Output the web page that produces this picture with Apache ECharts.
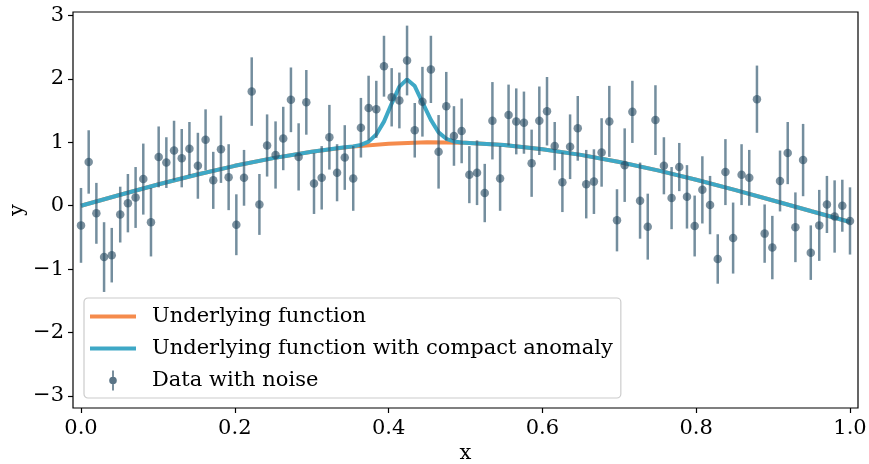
<!DOCTYPE html>
<html>
<head>
<meta charset="utf-8">
<script src="https://cdn.jsdelivr.net/npm/echarts@6/dist/echarts.min.js"></script>
<style>
  html, body { margin: 0; padding: 0; background: #fff; }
  #chart { width: 869px; height: 464px; }
</style>
</head>
<body>
<div id="chart"></div>
<script>
// ---- data ----
const xTicks = [0.0, 0.2, 0.4, 0.6, 0.8, 1.0];
const yTicks = [-3, -2, -1, 0, 1, 2, 3];

const curveX = [0, 0.05, 0.10, 0.15, 0.20, 0.25, 0.30, 0.35, 0.40, 0.45, 0.50,
                0.55, 0.60, 0.65, 0.70, 0.75, 0.80, 0.85, 0.90, 0.95, 1.00];
const curveY = [0, 0.169, 0.334, 0.488, 0.629, 0.751, 0.852, 0.928, 0.978, 0.999, 0.992,
                0.956, 0.892, 0.802, 0.690, 0.558, 0.409, 0.249, 0.082, -0.088, -0.256];

const anomalyX = [0, 0.05, 0.10, 0.15, 0.20, 0.25, 0.30, 0.333, 0.343, 0.354, 0.364,
                  0.374, 0.384, 0.394, 0.404, 0.414, 0.424, 0.434, 0.444, 0.455, 0.465,
                  0.475, 0.485, 0.495, 0.505, 0.55, 0.60, 0.65, 0.70, 0.75, 0.80,
                  0.85, 0.90, 0.95, 1.00];
const anomalyY = [0, 0.169, 0.334, 0.488, 0.629, 0.751, 0.852, 0.906, 0.921, 0.936, 0.960,
                  1.011, 1.122, 1.326, 1.611, 1.878, 1.992, 1.887, 1.628, 1.353, 1.157,
                  1.055, 1.013, 0.997, 0.990, 0.956, 0.892, 0.802, 0.690, 0.558, 0.409,
                  0.249, 0.082, -0.088, -0.256];

const dataX = [0, 0.010, 0.020, 0.030, 0.040, 0.051, 0.061, 0.071, 0.081, 0.091,
  0.101, 0.111, 0.121, 0.131, 0.141, 0.152, 0.162, 0.172, 0.182, 0.192,
  0.202, 0.212, 0.222, 0.232, 0.242, 0.253, 0.263, 0.273, 0.283, 0.293,
  0.303, 0.313, 0.323, 0.333, 0.343, 0.354, 0.364, 0.374, 0.384, 0.394,
  0.404, 0.414, 0.424, 0.434, 0.444, 0.455, 0.465, 0.475, 0.485, 0.495,
  0.505, 0.515, 0.525, 0.535, 0.545, 0.556, 0.566, 0.576, 0.586, 0.596,
  0.606, 0.616, 0.626, 0.636, 0.646, 0.657, 0.667, 0.677, 0.687, 0.697,
  0.707, 0.717, 0.727, 0.737, 0.747, 0.758, 0.768, 0.778, 0.788, 0.798,
  0.808, 0.818, 0.828, 0.838, 0.848, 0.859, 0.869, 0.879, 0.889, 0.899,
  0.909, 0.919, 0.929, 0.939, 0.949, 0.960, 0.970, 0.980, 0.990, 1.000];
const dataY = [-0.31, 0.69, -0.12, -0.81, -0.78, -0.14, 0.04, 0.13, 0.42, -0.26,
  0.77, 0.68, 0.87, 0.75, 0.90, 0.63, 1.04, 0.40, 0.89, 0.45,
  -0.30, 0.44, 1.80, 0.02, 0.95, 0.80, 1.06, 1.67, 0.77, 1.63,
  0.35, 0.44, 1.08, 0.52, 0.76, 0.43, 1.23, 1.54, 1.52, 2.20,
  1.71, 1.66, 2.29, 1.19, 1.64, 2.15, 0.85, 1.57, 1.10, 1.18,
  0.49, 0.52, 0.20, 1.34, 0.43, 1.43, 1.33, 1.31, 0.67, 1.34,
  1.49, 0.94, 0.37, 0.93, 1.22, 0.34, 0.38, 0.84, 1.33, -0.23,
  0.64, 1.48, 0.08, -0.33, 1.35, 0.63, 0.12, 0.61, 0.14, -0.32,
  0.25, 0.01, -0.84, 0.53, -0.51, 0.49, 0.44, 1.68, -0.44, -0.66,
  0.39, 0.83, -0.34, 0.72, -0.74, -0.31, 0.02, -0.17, 0.00, -0.24];
const dataErr = [0.59, 0.50, 0.48, 0.55, 0.43, 0.44, 0.46, 0.48, 0.56, 0.54,
  0.48, 0.40, 0.47, 0.46, 0.42, 0.52, 0.48, 0.45, 0.53, 0.52,
  0.48, 0.44, 0.54, 0.48, 0.49, 0.53, 0.50, 0.51, 0.53, 0.51,
  0.48, 0.50, 0.51, 0.45, 0.51, 0.51, 0.47, 0.51, 0.45, 0.48,
  0.46, 0.44, 0.55, 0.43, 0.55, 0.53, 0.58, 0.54, 0.47, 0.51,
  0.45, 0.51, 0.46, 0.61, 0.51, 0.48, 0.52, 0.49, 0.53, 0.54,
  0.54, 0.38, 0.47, 0.51, 0.51, 0.54, 0.51, 0.54, 0.56, 0.49,
  0.58, 0.49, 0.60, 0.52, 0.55, 0.45, 0.49, 0.38, 0.50, 0.48,
  0.53, 0.46, 0.39, 0.52, 0.56, 0.48, 0.44, 0.53, 0.46, 0.50,
  0.48, 0.49, 0.55, 0.57, 0.43, 0.56, 0.45, 0.57, 0.41, 0.53];

const seriesNames = ['Underlying function', 'Underlying function with compact anomaly', 'Data with noise'];

// ---- build chart ----
const FONT = 'DejaVu Serif';
const FS = 21;
const ORANGE = '#f58b4c';
const BLUE = '#3ea8c6';
const DOT = 'rgba(38,72,96,0.76)';
const BAR = 'rgba(50,88,112,0.68)';

const fmt = v => {
  const s = Math.abs(v) < 1e-9 ? '0' : String(Math.abs(v));
  return (v < -1e-9 ? '\u2212' : '') + s;
};

const chart = echarts.init(document.getElementById('chart'), null, { renderer: 'canvas' });
chart.setOption({
  animation: false,
  backgroundColor: '#fff',
  textStyle: { fontFamily: FONT },
  grid: { left: 73, top: 12, right: 11, bottom: 56, containLabel: false, outerBoundsMode: 'none',
          show: true, borderColor: '#000', borderWidth: 1.2, backgroundColor: 'transparent' },
  xAxis: {
    type: 'value', min: -0.0104, max: 1.0104,
    name: 'x', nameLocation: 'middle', nameGap: 35, nameMoveOverlap: false,
    nameTextStyle: { fontFamily: FONT, fontSize: FS, color: '#000' },
    axisLine: { show: false, onZero: false },
    splitLine: { show: false },
    axisTick: { show: true, inside: false, length: 5, customValues: xTicks, lineStyle: { color: '#000', width: 1.2 } },
    axisLabel: { customValues: xTicks, margin: 10, fontFamily: FONT, fontSize: FS, color: '#000',
                 formatter: v => v.toFixed(1) }
  },
  yAxis: {
    type: 'value', min: -3.19, max: 3.055,
    name: 'y', nameLocation: 'middle', nameGap: 45, nameRotate: 90, nameMoveOverlap: false,
    nameTextStyle: { fontFamily: FONT, fontSize: FS, color: '#000' },
    axisLine: { show: false, onZero: false },
    splitLine: { show: false },
    axisTick: { show: true, inside: false, length: 5, customValues: yTicks, lineStyle: { color: '#000', width: 1.2 } },
    axisLabel: { customValues: yTicks, margin: 9, fontFamily: FONT, fontSize: FS, color: '#000', formatter: fmt }
  },
  legend: {
    orient: 'vertical', left: 84, top: 298,
    padding: [8, 8, 7, 6], itemGap: 11,
    itemWidth: 46, itemHeight: 20,
    backgroundColor: 'rgba(255,255,255,0.8)', borderColor: '#cccccc', borderWidth: 1.2, borderRadius: 4,
    textStyle: { fontFamily: FONT, fontSize: FS, color: '#000', padding: [0, 0, 0, 11] },
    symbolKeepAspect: true,
    data: [
      { name: seriesNames[0], icon: 'path://M0,0h46v4h-46z' },
      { name: seriesNames[1], icon: 'path://M0,0h46v4h-46z' },
      { name: seriesNames[2], icon: 'path://M4.2,0h1.6v20h-1.6z M5,6.2a3.8,3.8 0 1,1 0,7.6a3.8,3.8 0 1,1 0,-7.6z' }
    ]
  },
  series: [
    {
      name: seriesNames[0], type: 'line', symbol: 'none', smooth: false,
      data: curveX.map((x, i) => [x, curveY[i]]),
      lineStyle: { color: ORANGE, width: 4 }, itemStyle: { color: ORANGE }, z: 2
    },
    {
      name: seriesNames[1], type: 'line', symbol: 'none', smooth: false,
      data: anomalyX.map((x, i) => [x, anomalyY[i]]),
      lineStyle: { color: BLUE, width: 4 }, itemStyle: { color: BLUE }, z: 3
    },
    {
      name: seriesNames[2], type: 'custom', z: 4,
      itemStyle: { color: DOT },
      data: dataX.map((x, i) => [x, dataY[i], dataErr[i]]),
      encode: { x: 0, y: 1 },
      renderItem: function (params, api) {
        const x = api.value(0), y = api.value(1), e = api.value(2);
        const p1 = api.coord([x, y + e]);
        const p2 = api.coord([x, y - e]);
        return { type: 'line', shape: { x1: p1[0], y1: p1[1], x2: p2[0], y2: p2[1] },
                 style: { stroke: BAR, lineWidth: 2.5 } };
      }
    },
    {
      name: seriesNames[2], type: 'scatter', z: 5,
      symbol: 'circle', symbolSize: 8.5,
      data: dataX.map((x, i) => [x, dataY[i]]),
      itemStyle: { color: DOT }
    }
  ]
});
</script>
</body>
</html>
